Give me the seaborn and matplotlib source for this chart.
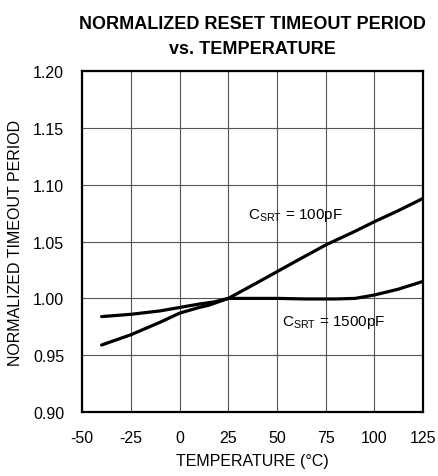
import pandas as pd
import matplotlib
matplotlib.use("Agg")
import matplotlib.pyplot as plt
import seaborn as sns

# values
temp_100 = [-40, -25, -10, 0, 10, 15, 25, 40, 50, 60, 75, 90, 100, 112, 125]
norm_100 = [0.959, 0.968, 0.979, 0.987, 0.992, 0.994, 1.000, 1.014, 1.0235, 1.033, 1.047, 1.059, 1.0675, 1.077, 1.088]

temp_1500 = [-40, -25, -10, 0, 10, 18, 25, 35, 50, 65, 80, 90, 100, 112, 125]
norm_1500 = [0.984, 0.986, 0.989, 0.992, 0.995, 0.997, 1.000, 1.000, 1.000, 0.9995, 0.9995, 1.000, 1.003, 1.008, 1.015]

x_ticks = [-50, -25, 0, 25, 50, 75, 100, 125]
y_ticks = [0.90, 0.95, 1.00, 1.05, 1.10, 1.15, 1.20]

df = pd.concat([
    pd.DataFrame({"temp": temp_100, "norm": norm_100, "cap": "100pF"}),
    pd.DataFrame({"temp": temp_1500, "norm": norm_1500, "cap": "1500pF"}),
], ignore_index=True)

sns.set_style("white")
plt.rcParams["font.family"] = ["Liberation Sans", "DejaVu Sans"]
plt.rcParams["axes.unicode_minus"] = False
plt.rcParams["text.color"] = "black"
plt.rcParams["axes.labelcolor"] = "black"
plt.rcParams["xtick.color"] = "black"
plt.rcParams["ytick.color"] = "black"
plt.rcParams["mathtext.fontset"] = "custom"
plt.rcParams["mathtext.rm"] = "Liberation Sans"

fig, ax = plt.subplots(figsize=(4.39, 4.77), dpi=100)
sns.lineplot(data=df, x="temp", y="norm", hue="cap", palette=["black", "black"],
             linewidth=2.3, legend=False, ax=ax, estimator=None, sort=False)

ax.set_xlim(-50, 125)
ax.set_ylim(0.90, 1.20)
ax.set_xticks(x_ticks)
ax.set_yticks(y_ticks)
ax.set_yticklabels([f"{v:.2f}" for v in y_ticks])
ax.grid(True, color="#555555", linewidth=0.8)
for s in ax.spines.values():
    s.set_color("black")
    s.set_linewidth(1.6)
ax.tick_params(axis="x", length=0, labelsize=11.5, pad=13)
ax.tick_params(axis="y", length=0, labelsize=11.5, pad=13)

ax.set_xlabel("TEMPERATURE (°C)", fontsize=11.5, labelpad=6)
ax.set_ylabel("NORMALIZED TIMEOUT PERIOD", fontsize=11.5, labelpad=7)
ax.set_title("NORMALIZED RESET TIMEOUT PERIOD\nvs. TEMPERATURE", fontsize=13,
             fontweight="bold", pad=13, linespacing=1.6)

ax.text(35.2, 1.0704, r"C$_{\mathrm{SRT}}$ = 100pF", fontsize=11, ha="left", va="baseline")
ax.text(52.6, 0.977, r"C$_{\mathrm{SRT}}$ = 1500pF", fontsize=11, ha="left", va="baseline")

plt.subplots_adjust(left=0.187, right=0.964, top=0.849, bottom=0.134)
plt.savefig("out.png", dpi=100)
